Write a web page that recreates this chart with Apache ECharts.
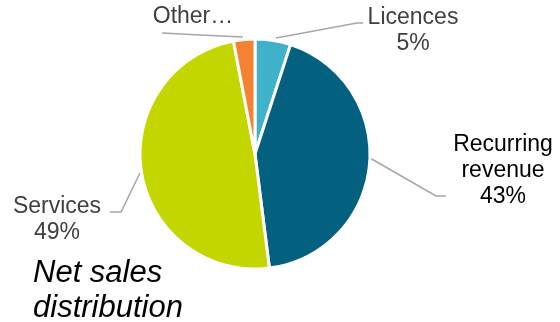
<!DOCTYPE html>
<html>
<head>
<meta charset="utf-8">
<script src="https://cdn.jsdelivr.net/npm/echarts@6/dist/echarts.min.js"></script>
<style>
  html, body { margin: 0; padding: 0; background: #fff; }
  #chart { width: 560px; height: 322px; }
</style>
</head>
<body>
<div id="chart"></div>
<script>
// Net sales split by revenue type (percent)
const categories = ['Licences', 'Recurring\nrevenue', 'Services', 'Other…'];
const shares = [5, 43, 49, 3];
const showPercent = [true, true, true, false];

const colors = ['#40B1CA', '#03607F', '#C4D600', '#F58232'];

// Label anchors and leader-line routes for each slice
const labelSpots = [
  { x: 413, y: 31, line: [[276, 38], [357, 23], [363, 23]], color: '#404040' },
  { x: 503, y: 171, line: [[370, 158], [436, 196], [446, 196]], color: '#000000' },
  { x: 57, y: 220, line: [[140, 173], [121, 212], [110, 212]], color: '#404040' },
  { x: 193, y: 17, line: [[243, 37], [200, 35], [162, 33]], color: '#404040' }
];

const chart = echarts.init(document.getElementById('chart'), null, { renderer: 'canvas' });

chart.setOption({
  animation: false,
  title: {
    text: 'Net sales\ndistribution',
    left: 28,
    top: 251,
    textStyle: {
      fontFamily: 'Liberation Sans, Arial, sans-serif',
      fontStyle: 'italic',
      fontWeight: 'normal',
      fontSize: 31,
      lineHeight: 35,
      color: '#000'
    }
  },
  series: [{
    type: 'pie',
    center: [255, 154],
    radius: [0, 115],
    startAngle: 90,
    clockwise: true,
    avoidLabelOverlap: false,
    itemStyle: { borderColor: '#fff', borderWidth: 3 },
    label: {
      show: true,
      fontFamily: 'Liberation Sans, Arial, sans-serif',
      fontSize: 23,
      lineHeight: 26,
      align: 'center',
      formatter: function (p) {
        return showPercent[p.dataIndex] ? p.name + '\n' + p.percent.toFixed(0) + '%' : p.name;
      }
    },
    labelLine: {
      show: true,
      lineStyle: { color: '#A6A6A6', width: 1.5 }
    },
    labelLayout: function (p) {
      const s = labelSpots[p.dataIndex];
      return {
        x: s.x,
        y: s.y,
        align: 'center',
        verticalAlign: 'middle',
        labelLinePoints: s.line
      };
    },
    data: categories.map(function (name, i) {
      return {
        name: name,
        value: shares[i],
        itemStyle: { color: colors[i] },
        label: { color: labelSpots[i].color }
      };
    })
  }]
});
</script>
</body>
</html>
